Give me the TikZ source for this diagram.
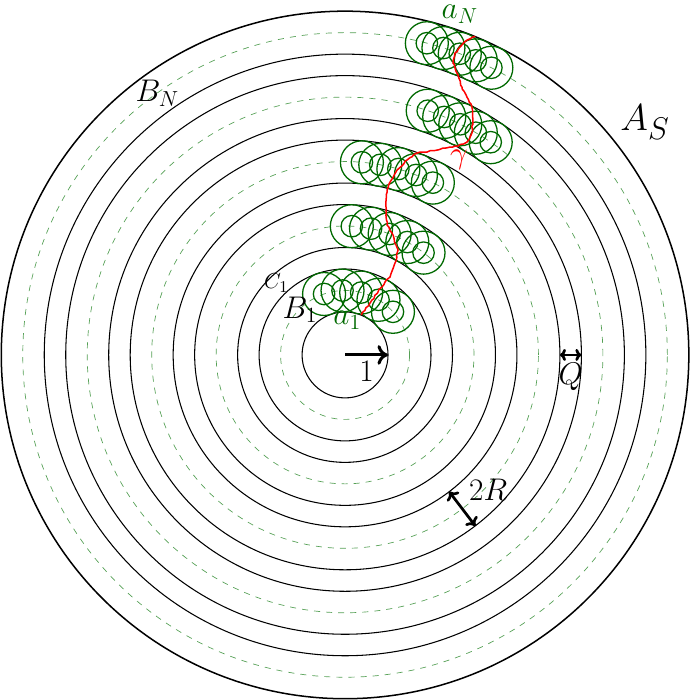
\documentclass[tikz,border=0pt]{standalone}
\usepackage{amssymb,amsmath}
\usetikzlibrary{positioning,arrows.meta,decorations.pathmorphing}
\tikzset{>=to}
\definecolor{ballgreen}{RGB}{0,105,0}
\definecolor{guidegreen}{RGB}{85,160,85}
\tikzset{
  ring/.style={line width=0.7pt},
  guide/.style={guidegreen,line width=0.45pt,dash pattern=on 4pt off 4pt},
  ball/.style={ballgreen,line width=0.85pt},
  walk/.style={red,line width=1pt,decorate,decoration={random steps,segment length=2pt,amplitude=0.45pt}},
  measure/.style={line width=1.8pt},
  big/.style={font=\fontsize{21}{25}\selectfont}
}

\begin{document}
\begin{tikzpicture}[every node/.style={big}]
\useasboundingbox (-8.03,-8.03) rectangle (8.05,8.26);
\coordinate (o) at (0,0);
\foreach \r in {1,2,2.5,3.5,4,5,5.5,6.5,7}
  \draw[ring] (o) circle (\r);
\draw[ring,line width=1pt] (o) circle (8);
\foreach \r in {1.5,3,4.5,6,7.5}
  \draw[guide] (o) circle (\r);
\foreach \r/\a/\b in {1.5/42/109,3/52.5/87,4.5/63/85,6/55.6/71.3,7.5/63/75.3}
  \foreach \k in {0,...,4}{
    \pgfmathsetmacro\t{\a+\k*(\b-\a)/4}
    \draw[ball] (\t:\r) circle (0.5) (\t:\r) circle (0.25);
  }
\draw[walk] plot coordinates {(0.38,0.93) (0.581,1.209) (0.767,1.465)
  (0.930,1.698) (1.047,1.814) (1.163,2.140) (1.233,2.442) (1.186,2.558) (1.093,2.837)
  (0.977,3.023) (0.953,3.442) (0.977,3.837) (1.047,4.023) (1.209,4.302) (1.442,4.535)
  (1.674,4.698) (1.907,4.721) (2.279,4.814) (2.628,4.860) (2.837,4.953) (2.953,5.163)
  (2.977,5.465) (2.953,5.767) (2.837,6.0) (2.721,6.233) (2.605,6.558) (2.512,6.791)
  (2.558,7.023) (2.674,7.163) (2.837,7.326) (3.03,7.41)};
\coordinate (one) at (1,0);
\coordinate (qin) at (5,0);
\coordinate (qout) at (5.5,0);
\coordinate (rin) at (-52.7:4);
\coordinate (rout) at (-52.7:5);
\draw[measure,line width=2pt,-{To[length=7pt,width=13pt]}] (o) -- node[below=0pt] (unit) {$1$} (one);
\draw[measure,{To[length=4pt,width=8pt]}-{To[length=4pt,width=8pt]}] (qin) -- node[below=1pt] (qlab) {$Q$} (qout);
\draw[measure,{To[length=5pt,width=10pt]}-{To[length=5pt,width=10pt]}] (rin) -- (rout);
\node (twoR) at (3.33,-3.14) {$2R$};
\node[ballgreen,inner sep=0pt] (aN) at (2.67,7.92) {$a_N$};
\node[ballgreen] (a1) at (0.05,0.81) {$a_1$};
\node (B1) at (-1.05,1.05) {$B_1$};
\node[font=\fontsize{15}{18}\selectfont] (C1) at (-1.6,1.67) {$C_1$};
\node (BN) at (-4.37,6.09) {$B_N$};
\node[font=\fontsize{29}{34}\selectfont] (AS) at (6.98,5.42) {$A_S$};
\node[red] (gam) at (2.65,4.53) {$\gamma$};
\end{tikzpicture}
\end{document}
